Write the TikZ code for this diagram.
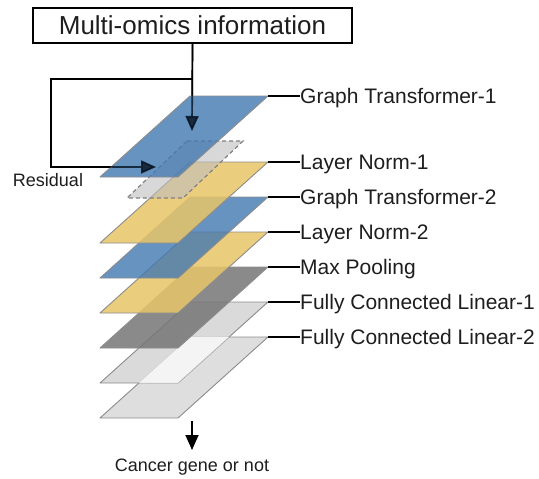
\documentclass[tikz,border=0pt]{standalone}
\usepackage{fontspec}
\setmainfont{Liberation Sans}
\usetikzlibrary{arrows.meta}
\definecolor{layblue}{RGB}{66,120,178}
\definecolor{layyellow}{RGB}{232,197,104}
\definecolor{laydark}{RGB}{118,118,118}
\definecolor{laylight}{RGB}{212,212,212}
\definecolor{laylighter}{RGB}{222,222,222}
\definecolor{laynorm}{RGB}{190,190,190}
\definecolor{txt}{RGB}{30,30,30}
\newcommand\layerat[2]{\path[lay,#2] (190,#1) -- (268,#1) -- (178,{#1+81}) -- (100,{#1+81}) -- cycle;}
\begin{document}
\begin{tikzpicture}[x=1pt,y=-1pt,
  lay/.style={draw=black!45, line width=0.9pt, line join=round},
  arr/.style={line width=1.7pt, -{Triangle[length=15pt,width=13pt]}},
  lline/.style={line width=1.6pt, black},
  lab/.style={anchor=west, inner sep=0pt, text=txt, font=\fontsize{21}{21}\selectfont, text height=15pt, text depth=0pt},
  small/.style={text=txt, font=\fontsize{18}{18}\selectfont, inner sep=0pt}]
\fill[white] (0,0) rectangle (539,479);
\useasboundingbox (0,0) rectangle (539,479);

% input box and arrows (under the layers)
\node[draw, line width=1.6pt, minimum width=319pt, minimum height=35pt, inner sep=0pt,
      text=txt, font=\fontsize{26}{26}\selectfont] (info) at (192.5,25.5) {Multi-omics information};
\coordinate (tip1) at (192,131);
\coordinate (rb) at (192,79);
\coordinate (rtip) at (156,167);
\draw[arr] (info.south) -- (tip1);
\draw[arr] (rb) -- (51,79) -- (51,167) -- (rtip);

% layers, bottom to top
\layerat{337}{fill=laylighter}
\layerat{302}{fill=laylight, fill opacity=0.85}
\begin{scope}
  \clip (190,302) -- (268,302) -- (178,383) -- (100,383) -- cycle;
  \fill[white, fill opacity=0.75] (190,337) -- (268,337) -- (178,418) -- (100,418) -- cycle;
\end{scope}
\layerat{267}{fill=laydark, fill opacity=0.85}
\layerat{232}{fill=layyellow, fill opacity=0.85}
\layerat{197}{fill=layblue, fill opacity=0.8}
\layerat{162}{fill=layyellow, fill opacity=0.85}
\path[fill=laynorm, fill opacity=0.6, draw=black!50, line width=1.2pt, dash pattern=on 4pt off 3pt]
  (187,141) -- (243,141) -- (183,198) -- (127,198) -- cycle;
\layerat{96}{fill=layblue, fill opacity=0.8}

% arrows seen through the top layer
\begin{scope}[opacity=0.55]
  \draw[arr] (info.south) -- (tip1);
  \draw[arr] (rb) -- (51,79) -- (51,167) -- (rtip);
\end{scope}

% labels
\foreach \yy/\nm/\tx in {96/l1/Graph Transformer-1, 162/l2/Layer Norm-1, 197/l3/Graph Transformer-2,
  232/l4/Layer Norm-2, 267/l5/Max Pooling, 302/l6/Fully Connected Linear-1, 337/l7/Fully Connected Linear-2}{
  \coordinate (c\nm) at (268,\yy);
  \node[lab] (\nm) at (300,\yy) {\tx};
  \draw[lline] (c\nm) -- (\nm.west);
}

\node[small] (res) at (48,180) {Residual};

\coordinate (outtop) at (192,421);
\node[small, anchor=north] (out) at (192,459) {Cancer gene or not};
\draw[arr] (outtop) -- ([yshift=9pt]out.north);
\end{tikzpicture}
\end{document}
